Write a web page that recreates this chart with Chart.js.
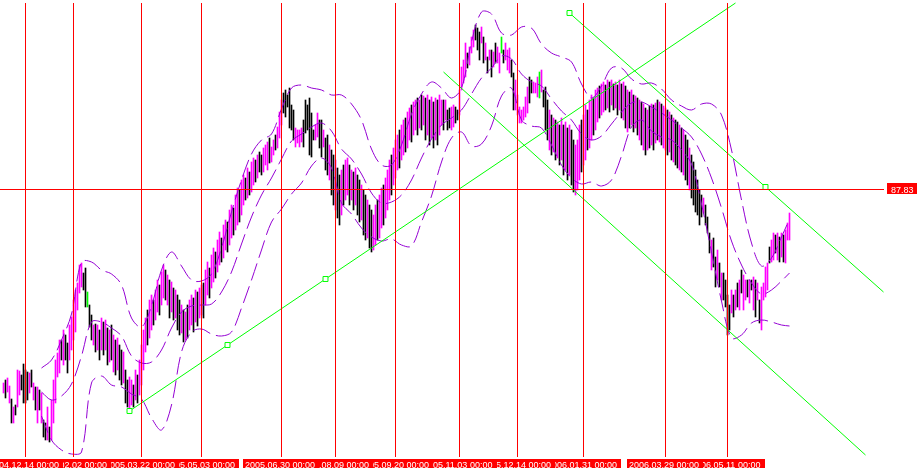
<!DOCTYPE html>
<html><head><meta charset="utf-8">
<script src="https://cdn.jsdelivr.net/npm/chart.js@4.4.1/dist/chart.umd.min.js"></script>
<style>html,body{margin:0;padding:0;background:#fff;overflow:hidden}canvas{display:block}</style>
</head><body>
<canvas id="c" width="920" height="468"></canvas>
<script>
// daily bars: high / low prices, colour code per bar (m = magenta, b = black, g = green)
const barHigh = [
85.89,85.92,85.94,85.86,85.73,85.65,85.67,86.02,86.01,85.97,
86.08,86.02,86.00,85.99,86.02,85.89,85.85,85.85,85.82,85.79,
85.52,85.49,85.65,85.45,85.72,85.92,86.12,86.19,86.32,86.32,
86.42,86.37,86.29,86.47,86.55,86.72,86.82,86.89,87.07,87.09,
86.99,87.04,86.80,86.67,86.57,86.47,86.48,86.47,86.42,86.54,
86.50,86.52,86.44,86.42,86.47,86.37,86.32,86.34,86.27,86.22,
86.20,86.02,85.92,85.95,85.92,85.87,86.02,85.97,86.12,86.27,
86.42,86.54,86.62,86.72,86.77,86.72,86.82,86.92,86.87,87.00,
87.07,87.02,86.97,86.92,86.90,86.84,86.82,86.77,86.72,86.67,
86.62,86.60,86.67,86.72,86.77,86.74,86.82,86.80,86.84,86.87,
86.89,87.02,87.10,87.04,87.17,87.24,87.20,87.32,87.40,87.34,
87.47,87.52,87.50,87.62,87.67,87.64,87.77,87.84,87.82,87.92,
87.97,87.94,88.04,88.00,88.10,88.14,88.12,88.17,88.20,88.17,
88.24,88.27,88.30,88.34,88.25,88.32,88.37,88.45,88.60,88.72,
88.79,88.82,88.77,88.84,88.67,88.62,88.44,88.42,88.42,88.44,
88.52,88.72,88.67,88.74,88.59,88.42,88.47,88.59,88.52,88.52,
88.42,88.34,88.37,88.27,88.22,88.17,88.12,88.04,87.97,88.02,
88.07,88.12,88.14,88.07,88.02,88.00,88.04,87.97,87.92,87.87,
87.82,87.77,87.72,87.67,87.62,87.57,87.67,87.72,87.77,87.84,
87.87,87.94,88.02,88.12,88.17,88.24,88.32,88.37,88.42,88.47,
88.52,88.54,88.60,88.64,88.67,88.70,88.72,88.74,88.72,88.77,
88.76,88.74,88.77,88.72,88.75,88.70,88.74,88.72,88.77,88.72,
88.72,88.72,88.62,88.64,88.65,88.67,88.65,88.62,88.82,89.05,
89.12,89.29,89.19,89.25,89.35,89.42,89.47,89.44,89.40,89.45,
89.35,89.29,89.15,89.22,89.22,89.20,89.29,89.25,89.19,89.35,
89.22,89.29,89.22,89.24,89.12,88.99,88.92,88.77,88.65,88.62,
88.65,88.75,88.85,88.95,88.92,88.90,88.89,88.95,89.00,89.02,
88.82,88.85,88.72,88.62,88.57,88.54,88.52,88.50,88.47,88.54,
88.47,88.50,88.44,88.47,88.42,88.32,88.27,88.32,88.47,88.52,
88.57,88.67,88.62,88.72,88.77,88.74,88.82,88.84,88.86,88.88,
88.90,88.87,88.92,88.90,88.92,88.88,88.90,88.87,88.92,88.88,
88.90,88.86,88.82,88.80,88.82,88.77,88.76,88.74,88.72,88.70,
88.68,88.64,88.62,88.66,88.68,88.67,88.69,88.72,88.70,88.68,
88.66,88.64,88.62,88.60,88.57,88.54,88.52,88.50,88.47,88.44,
88.42,88.37,88.32,88.24,88.17,88.10,88.02,87.92,87.82,87.77,
87.74,87.67,87.55,87.39,87.32,87.34,87.15,87.22,87.09,86.99,
86.99,86.92,86.77,86.67,86.82,86.77,86.82,86.89,86.92,87.02,
86.97,86.92,86.92,86.92,86.92,86.95,86.92,86.89,86.72,86.85,
86.89,87.05,87.09,87.25,87.32,87.39,87.37,87.39,87.35,87.39,
87.37,87.42,87.49,87.59];
const barLow = [
85.79,85.74,85.80,85.69,85.49,85.49,85.57,85.65,85.77,85.82,
85.69,85.69,85.72,85.79,85.85,85.72,85.62,85.49,85.62,85.49,
85.35,85.32,85.32,85.30,85.32,85.49,85.69,85.95,85.99,86.12,
86.07,86.12,85.99,86.12,86.22,86.32,86.40,86.62,86.79,86.85,
86.82,86.65,86.65,86.45,86.32,86.27,86.20,86.22,86.12,86.22,
86.17,86.22,86.07,86.10,86.12,86.00,85.97,86.02,85.92,85.87,
85.89,85.69,85.65,85.61,85.67,85.65,85.72,85.69,85.77,85.87,
86.02,86.20,86.27,86.34,86.42,86.47,86.52,86.60,86.57,86.67,
86.74,86.72,86.67,86.54,86.60,86.52,86.54,86.42,86.37,86.39,
86.30,86.32,86.34,86.42,86.47,86.40,86.50,86.46,86.54,86.57,
86.54,86.67,86.77,86.74,86.84,86.90,86.94,87.00,87.07,87.10,
87.14,87.22,87.20,87.27,87.34,87.37,87.42,87.47,87.50,87.57,
87.67,87.72,87.74,87.77,87.80,87.87,87.90,87.94,88.00,87.97,
88.00,88.07,88.02,88.09,88.10,88.17,88.22,88.24,88.34,88.47,
88.59,88.55,88.65,88.44,88.42,88.32,88.25,88.29,88.25,88.30,
88.25,88.39,88.42,88.17,88.15,88.32,88.32,88.35,88.24,88.15,
88.25,88.02,87.97,87.92,87.77,87.67,87.62,87.54,87.47,87.57,
87.67,87.72,87.77,87.67,87.72,87.62,87.67,87.57,87.50,87.52,
87.37,87.32,87.34,87.24,87.20,87.22,87.27,87.32,87.34,87.44,
87.47,87.54,87.62,87.72,87.77,87.87,87.94,88.02,88.04,88.12,
88.17,88.20,88.24,88.32,88.30,88.37,88.42,88.37,88.44,88.42,
88.47,88.32,88.37,88.27,88.34,88.24,88.32,88.27,88.37,88.47,
88.42,88.52,88.42,88.44,88.42,88.45,88.49,88.52,88.57,88.82,
88.89,88.95,89.04,89.07,89.19,89.25,89.32,89.22,89.12,89.29,
89.09,89.12,88.99,89.12,88.95,89.05,89.09,89.09,88.99,89.19,
89.09,89.12,89.02,88.99,88.95,88.62,88.62,88.57,88.49,88.49,
88.52,88.55,88.59,88.69,88.79,88.79,88.79,88.75,88.74,88.80,
88.65,88.42,88.32,88.22,88.17,88.20,88.12,88.14,88.07,88.12,
87.97,88.02,87.92,87.97,87.87,87.80,87.77,87.82,87.92,88.00,
88.07,88.12,88.22,88.24,88.32,88.37,88.42,88.50,88.54,88.57,
88.60,88.62,88.64,88.60,88.67,88.62,88.64,88.57,88.62,88.54,
88.52,88.44,88.40,88.44,88.47,88.40,88.44,88.37,88.32,88.27,
88.22,88.17,88.22,88.24,88.27,88.22,88.29,88.32,88.30,88.27,
88.24,88.22,88.17,88.20,88.12,88.10,88.07,88.04,88.02,88.00,
87.97,87.92,87.87,87.82,87.74,87.67,87.60,87.57,87.47,87.55,
87.59,87.47,87.39,87.19,87.02,87.05,86.85,86.92,86.85,86.72,
86.72,86.65,86.37,86.42,86.59,86.55,86.62,86.65,86.62,86.79,
86.62,86.72,86.75,86.69,86.82,86.62,86.55,86.72,86.49,86.42,
86.72,86.75,86.82,87.09,87.10,87.12,87.19,87.12,87.10,87.15,
87.10,87.09,87.32,87.32];
const barColor =
"mbmmbmbmmb"+"bbbmbmbmbm"+"bbmbmmmmmb"+"mbbmmmmmmm"+"bbgbbmbmbm"+
"bmbmbmbmbb"+"mbbmmbmbmm"+"mmbmmbmmbm"+"mbmbmbmbbm"+"bmbmmbmbmm"+
"bmmbmmbmmb"+"mmbmmbmmbm"+"mbmbmmbmbb"+"mmmbmmbmmm"+"bbbbbbmmmm"+
"bbbbbbmmbb"+"mbbmbbmbbm"+"bmmbmbmbbm"+"bbmbbmmbmm"+"bmmmbmmmbm"+
"mbmmbmmbmb"+"mbmbmbmbmm"+"bmbbmmbbmm"+"mmbmmmbbbm"+"bmbmbmbmmg"+
"bmmmbbmmmm"+"mmmbbmmmgm"+"bbbmbmbmbm"+"bmbmbbmmmb"+"mmbmmbmmbm"+
"mbmbmbmbmb"+"mbmbmbmbmb"+"mbmbmbmbmb"+"mmbmbmbbmb"+"mbbmbbbbbb"+
"mbbbmbbmbm"+"bbbbmbmbmb"+"mmbmbmbmbm"+"mmmbmmbmbm"+"bmmm";

// Bollinger-type bands read at sampled bar indices
const bandBar = [19,24,29,34,39,44,49,54,59,64,69,74,79,84,89,94,99,104,109,114,
119,124,129,134,139,144,149,154,159,164,169,174,179,184,189,194,199,204,209,214,
219,224,229,234,239,244,249,254,259,264,269,274,279,284,289,294,299,304,309,314,
319,324,329,334,339,344,349,354,359,364,369,374,379,384,389,393];
const bandUpper = [86.04,86.12,86.32,86.58,87.10,87.10,87.02,86.98,86.87,86.54,
86.45,86.66,87.02,87.20,87.06,86.92,86.91,86.98,87.24,87.60,
87.92,88.18,88.32,88.38,88.63,88.84,88.87,88.84,88.82,88.77,
88.77,88.68,88.52,88.23,88.07,88.07,88.27,88.58,88.78,88.90,
88.84,88.74,88.84,89.30,89.60,89.58,89.39,89.37,89.45,89.44,
89.28,89.19,89.15,89.10,88.88,88.74,88.86,89.04,89.04,88.93,
88.88,88.89,88.83,88.72,88.66,88.62,88.68,88.68,88.57,88.22,
87.72,87.29,87.06,87.14,87.35,87.53];
const bandMiddle = [85.80,85.72,85.76,85.88,86.16,86.50,86.50,86.44,86.36,86.16,
86.09,86.10,86.22,86.44,86.60,86.66,86.67,86.68,86.80,87.00,
87.28,87.55,87.77,87.94,88.13,88.31,88.38,88.45,88.49,88.41,
88.23,88.13,87.98,87.79,87.69,87.70,87.77,87.92,88.14,88.33,
88.47,88.54,88.62,88.78,88.94,89.04,89.16,89.13,88.98,88.90,
88.86,88.73,88.61,88.52,88.38,88.32,88.36,88.48,88.60,88.69,
88.70,88.65,88.59,88.52,88.44,88.35,88.18,87.94,87.64,87.31,
87.07,86.89,86.78,86.82,86.91,86.99];
const bandLower = [85.56,85.32,85.22,85.18,85.20,85.89,85.96,85.87,85.85,85.78,
85.73,85.54,85.42,85.67,86.20,86.40,86.43,86.38,86.36,86.40,
86.64,86.92,87.22,87.50,87.63,87.78,87.89,88.06,88.14,88.04,
87.69,87.58,87.44,87.35,87.31,87.33,87.27,87.26,87.50,87.76,
88.10,88.34,88.40,88.26,88.28,88.46,88.76,88.84,88.52,88.46,
88.44,88.27,88.07,87.94,87.88,87.90,87.86,87.92,88.16,88.45,
88.52,88.41,88.35,88.32,88.22,88.08,87.68,87.20,86.71,86.34,
86.37,86.49,86.52,86.50,86.47,86.46];

// vertical line objects (bar index) and their time labels
const markerBar = [11,35,69,99,139,166,196,228,257,290,331,362];
const markerText = ["2004.12.14 00:00","2005.02.02 00:00","2005.03.22 00:00","2005.05.03 00:00","2005.06.30 00:00","2005.08.09 00:00","2005.09.20 00:00","2005.11.03 00:00","2005.12.14 00:00","2006.01.31 00:00","2006.03.29 00:00","2006.05.11 00:00"];
const levelPrice = 87.83;
// trend lines: bar index / price
const trendUpX = [63,112,161,366];
const trendUpY = [85.61,86.27,86.93,89.69];
const chanTopX = [283,381,440];
const chanTopY = [89.59,87.85,86.80];
const chanLowX = [220,431];
const chanLowY = [89.00,85.17];

const C_RED='#ff0000', C_MAG='#ff00ff', C_GRN='#00ff00', C_PUR='#9400d3';
const colorMap = {m:C_MAG,b:'#000000',g:C_GRN};
const pts = (xs, ys) => xs.map((v,i)=>({x:v,y:ys[i]}));
const FONT = '9px "Liberation Sans", Arial, sans-serif';

const overlay = {
  id:'overlay',
  afterDatasetsDraw(chart){
    const {ctx, scales:{x,y}} = chart;
    ctx.save();
    ctx.strokeStyle = C_RED; ctx.lineWidth = 1;
    markerBar.forEach(b=>{
      const px = Math.floor(x.getPixelForValue(b)) + 0.5;
      ctx.beginPath(); ctx.moveTo(px,3); ctx.lineTo(px,457); ctx.stroke();
    });
    const py = Math.round(y.getPixelForValue(levelPrice)) + 0.5;
    ctx.beginPath(); ctx.moveTo(0,py); ctx.lineTo(884,py); ctx.stroke();
    ctx.font = FONT; ctx.textBaseline = 'alphabetic';
    ctx.fillStyle = C_RED; ctx.fillRect(887, py-6.5, 30, 11);
    ctx.fillStyle = '#fff'; ctx.fillText(levelPrice.toFixed(2), 891, py+3);
    for (let k = markerBar.length-1; k>=0; k--) {
      const px = Math.floor(x.getPixelForValue(markerBar[k]));
      ctx.fillStyle = C_RED; ctx.fillRect(px-38, 459, 76, 10);
      ctx.fillStyle = '#fff'; ctx.fillText(markerText[k], px-36, 467.5);
    }
    ctx.restore();
  }
};

const bandDs = arr => ({type:'line', data:pts(bandBar,arr), borderColor:C_PUR, borderWidth:1,
  borderDash:[18,6], pointRadius:0, tension:0.35, order:4});

new Chart(document.getElementById('c'), {
  type:'bar',
  data:{
    datasets:[
      {type:'bar', data: barHigh.map((h,i)=>({x:i,y:[barLow[i],h]})),
       backgroundColor: barHigh.map((h,i)=>colorMap[barColor[i]]||'#000'),
       barThickness:1, borderWidth:0, grouped:false, order:5},
      bandDs(bandUpper), bandDs(bandMiddle), bandDs(bandLower),
      {type:'line', data:pts(trendUpX,trendUpY), borderColor:C_GRN, borderWidth:1, pointStyle:'rect', pointRadius:[3.5,3.5,3.5,0], pointBorderColor:C_GRN, pointBackgroundColor:'#fff', pointBorderWidth:1, order:1},
      {type:'line', data:pts(chanTopX,chanTopY), borderColor:C_GRN, borderWidth:1, pointStyle:'rect', pointRadius:[3.5,3.5,0], pointBorderColor:C_GRN, pointBackgroundColor:'#fff', pointBorderWidth:1, order:1},
      {type:'line', data:pts(chanLowX,chanLowY), borderColor:C_GRN, borderWidth:1, pointRadius:0, order:1}
    ]
  },
  options:{
    responsive:false, animation:false, devicePixelRatio:1,
    layout:{padding:0, autoPadding:false},
    plugins:{legend:{display:false}, tooltip:{enabled:false}},
    scales:{
      x:{type:'linear', min:-1.75, max:458.25, display:false, offset:false},
      y:{type:'linear', min:85.04, max:89.72, display:false}
    }
  },
  plugins:[overlay]
});
</script>
</body></html>
